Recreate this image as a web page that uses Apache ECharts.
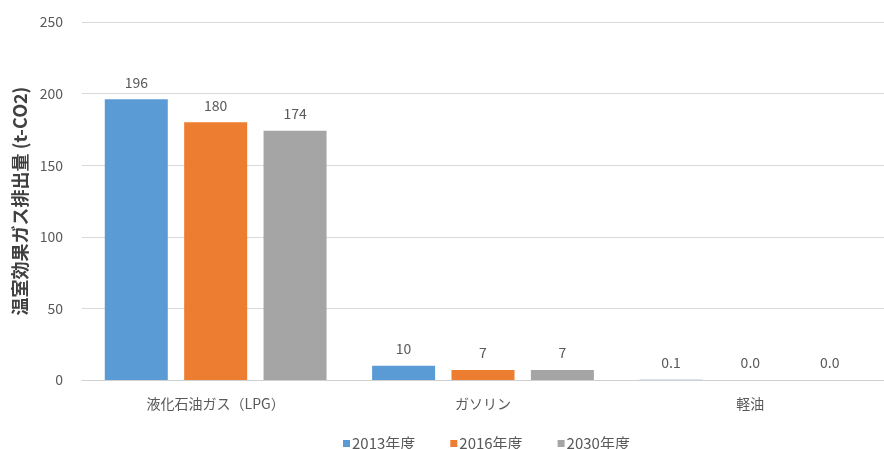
<!DOCTYPE html>
<html>
<head>
<meta charset="utf-8">
<script src="https://cdn.jsdelivr.net/npm/echarts@6/dist/echarts.min.js"></script>
<style>
  html, body { margin: 0; padding: 0; background: #ffffff; }
  #chart { width: 884px; height: 449px; }
</style>
</head>
<body>
<div id="chart"></div>
<script>
// Fuel types on the category axis
const categories = ['液化石油ガス（LPG）', 'ガソリン', '軽油'];
// Greenhouse gas emissions (t-CO2) per fiscal year
const seriesNames = ['2013年度', '2016年度', '2030年度'];
const fy2013 = [196, 10, 0.1];
const fy2016 = [180, 7, 0.0];
const fy2030 = [174, 7, 0.0];
// Decimal places shown in the value labels, per category
const labelDecimals = [0, 0, 1];

const colors = ['#5B9BD5', '#ED7D31', '#A5A5A5'];
const FONT = '"Noto Sans CJK JP", "Noto Sans", sans-serif';
const TEXT = '#595959';

function barSeries(name, data, color) {
  return {
    name: name,
    type: 'bar',
    data: data,
    barWidth: 63,
    barGap: '26%',
    itemStyle: { color: color },
    label: {
      show: true,
      position: 'top',
      distance: 10,
      color: TEXT,
      fontFamily: FONT,
      fontSize: 14,
      formatter: p => Number(p.value).toFixed(labelDecimals[p.dataIndex])
    }
  };
}

const chart = echarts.init(document.getElementById('chart'), null, { renderer: 'canvas' });
chart.setOption({
  animation: false,
  backgroundColor: '#ffffff',
  textStyle: { fontFamily: FONT },
  grid: { left: 82, top: 22, width: 814, height: 358 },
  legend: {
    data: seriesNames,
    left: 338,
    top: 431,
    icon: 'rect',
    itemWidth: 7,
    itemHeight: 7,
    itemGap: 35,
    textStyle: { color: TEXT, fontFamily: FONT, fontSize: 15, padding: [0, 0, 0, -3] }
  },
  xAxis: {
    type: 'category',
    data: categories,
    axisLine: { lineStyle: { color: '#D0D0D0', width: 1 } },
    axisTick: { show: false },
    axisLabel: { color: TEXT, fontFamily: FONT, fontSize: 14, margin: 17 }
  },
  yAxis: {
    type: 'value',
    min: 0,
    max: 250,
    interval: 50,
    name: '温室効果ガス排出量 (t-CO2)',
    nameLocation: 'middle',
    nameGap: 52,
    nameTextStyle: { color: '#404040', fontFamily: FONT, fontSize: 18, fontWeight: 'bold' },
    axisLine: { show: false },
    axisTick: { show: false },
    axisLabel: { color: TEXT, fontFamily: FONT, fontSize: 14, margin: 19 },
    splitLine: { lineStyle: { color: '#D9D9D9', width: 1 } }
  },
  series: [
    barSeries(seriesNames[0], fy2013, colors[0]),
    barSeries(seriesNames[1], fy2016, colors[1]),
    barSeries(seriesNames[2], fy2030, colors[2])
  ]
});
</script>
</body>
</html>
